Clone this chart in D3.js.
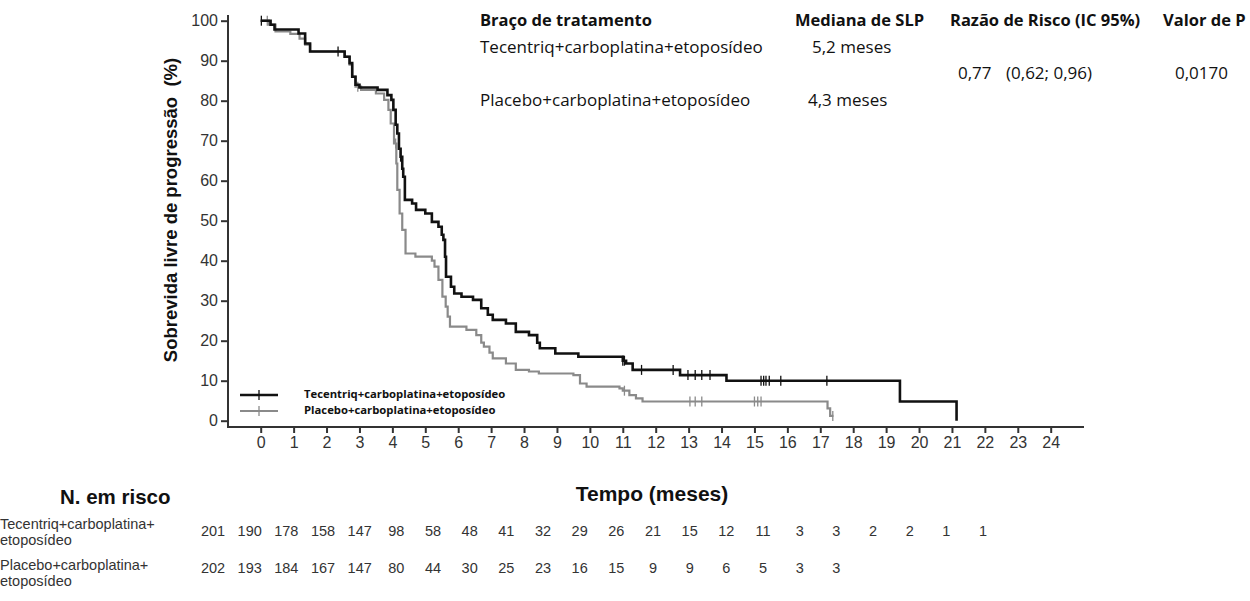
<!DOCTYPE html>
<html>
<head>
<meta charset="utf-8">
<script src="https://cdn.jsdelivr.net/npm/d3@7"></script>
<style>
  body { margin: 0; background: #fff; }
  svg { display: block; }
  .tick text { font-family: "Liberation Sans", Arial, sans-serif; font-size: 16px; fill: #333; }
</style>
</head>
<body>
<svg id="chart" width="1250" height="601"></svg>
<script>
// Kaplan-Meier steps: time (months) -> survival (%)
const tecTimes = [0, 0.3, 0.42, 1.15, 1.35, 1.5, 2.55, 2.7, 2.78, 2.88, 3.0, 3.55, 3.85, 3.97, 4.03, 4.1, 4.15, 4.2, 4.25, 4.3, 4.33, 4.38, 4.6, 4.72, 5.0, 5.2, 5.4, 5.5, 5.55, 5.6, 5.63, 5.78, 5.88, 6.1, 6.45, 6.7, 6.9, 7.05, 7.45, 7.75, 8.15, 8.4, 8.48, 8.95, 9.65, 11.0, 11.1, 11.3, 12.74, 14.15, 19.42, 21.14];
const tecSurv  = [100, 99, 97.8, 96.8, 94.3, 92.3, 91, 89.4, 86, 84, 83.3, 82.7, 81.4, 80.2, 77.7, 74, 71.8, 68, 66, 63, 61, 55.2, 54.3, 52.7, 51.8, 49.7, 48.5, 46.5, 45.2, 41, 36, 33.5, 31.8, 31, 30.2, 28.1, 26.5, 25.2, 24.3, 22.2, 21.4, 19.5, 18.1, 16.8, 16, 15, 14.3, 12.7, 11.4, 10, 4.8, 0];
const plaTimes = [0, 0.25, 0.45, 0.9, 1.18, 1.35, 1.5, 2.55, 2.7, 2.78, 2.88, 3.05, 3.5, 3.75, 3.88, 3.95, 4.05, 4.12, 4.15, 4.22, 4.3, 4.4, 4.7, 5.2, 5.28, 5.4, 5.52, 5.62, 5.68, 5.75, 6.25, 6.55, 6.7, 6.78, 6.95, 7.05, 7.45, 7.75, 8.15, 8.45, 9.5, 9.7, 9.9, 10.9, 11.0, 11.2, 11.4, 11.6, 17.22, 17.3];
const plaSurv  = [100, 99, 97.3, 96.7, 95.5, 94, 92.3, 91, 89, 86, 83.5, 82.7, 81.8, 80.2, 77.7, 74.3, 69.3, 64.3, 57.7, 51.8, 47.7, 41.8, 41, 40, 38.5, 35.2, 31, 28.5, 26, 23.5, 22.7, 21.4, 19.5, 18.5, 17, 15.6, 14.3, 12.7, 12.3, 11.8, 11.4, 9.3, 8.5, 8.1, 7.5, 6.4, 5.6, 4.8, 3.1, 1.2];
const plaEnd = 17.4;

// censored observations (times, months)
const tecCensor = [0.02, 2.35, 4.25, 11.0, 11.05, 11.57, 12.53, 12.98, 13.2, 13.4, 13.65, 15.2, 15.28, 15.35, 15.45, 15.8, 17.2];
const plaCensor = [0.2, 2.95, 4.1, 11.05, 13.04, 13.2, 13.4, 15.0, 15.1, 15.2, 17.38];

const xTicks = d3.range(0, 25);
const yTicks = d3.range(0, 101, 10);

// number at risk
const riskTec = [201, 190, 178, 158, 147, 98, 58, 48, 41, 32, 29, 26, 21, 15, 12, 11, 3, 3, 2, 2, 1, 1];
const riskPla = [202, 193, 184, 167, 147, 80, 44, 30, 25, 23, 16, 15, 9, 9, 6, 5, 3, 3];

const armNames = ['Tecentriq+carboplatina+etoposídeo', 'Placebo+carboplatina+etoposídeo'];
const medians = ['5,2 meses', '4,3 meses'];

const svg = d3.select('#chart');
const sans = '"Liberation Sans", Arial, sans-serif';
const calib = '"Open Sans", "Noto Sans", sans-serif';

const x = d3.scaleLinear().domain([0, 24]).range([260.7, 1050.7]);
const y = d3.scaleLinear().domain([0, 100]).range([420.7, 20.7]);
const axisY0 = 427;
const axisX0 = 228;

// axes
const gy = svg.append('g')
  .attr('transform', `translate(${axisX0},0)`)
  .call(d3.axisLeft(y).tickValues(yTicks).tickSize(7).tickPadding(3).tickFormat(d3.format('d')));
gy.select('.domain').remove();
gy.selectAll('.tick line').attr('stroke', '#333').attr('stroke-width', 2);

const gx = svg.append('g')
  .attr('transform', `translate(0,${axisY0})`)
  .call(d3.axisBottom(x).tickValues(xTicks).tickSize(6).tickPadding(4).tickFormat(d3.format('d')));
gx.select('.domain').remove();
gx.selectAll('.tick line').attr('stroke', '#333').attr('stroke-width', 2);

svg.append('path')
  .attr('d', `M${axisX0},15V${axisY0}H1084`)
  .attr('fill', 'none').attr('stroke', '#333').attr('stroke-width', 2);

// curves
const line = d3.line().x(d => x(d[0])).y(d => y(d[1])).curve(d3.curveStepAfter);
const tecPts = tecTimes.map((t, i) => [t, tecSurv[i]]);
const plaPts = plaTimes.map((t, i) => [t, plaSurv[i]]);
plaPts.push([plaEnd, plaSurv[plaSurv.length - 1]]);

const survAt = (times, surv, t) => surv[Math.max(0, d3.bisectRight(times, t) - 1)];

function drawArm(pts, times, surv, censor, color, width) {
  svg.append('path')
    .attr('d', line(pts))
    .attr('fill', 'none').attr('stroke', color).attr('stroke-width', width);
  svg.append('g').selectAll('line')
    .data(censor)
    .join('line')
    .attr('x1', d => x(d)).attr('x2', d => x(d))
    .attr('y1', d => y(survAt(times, surv, d)) - 5)
    .attr('y2', d => y(survAt(times, surv, d)) + 5)
    .attr('stroke', color).attr('stroke-width', 1.3);
}
drawArm(plaPts, plaTimes, plaSurv, plaCensor, '#8a8a8a', 2.2);
drawArm(tecPts, tecTimes, tecSurv, tecCensor, '#111', 2.6);

// legend
const legend = svg.append('g');
[['#111', 395, 2.6], ['#8a8a8a', 411, 2.2]].forEach((c, i) => {
  legend.append('line').attr('x1', 240).attr('x2', 278).attr('y1', c[1]).attr('y2', c[1])
    .attr('stroke', c[0]).attr('stroke-width', c[2]);
  legend.append('line').attr('x1', 259).attr('x2', 259).attr('y1', c[1] - 5).attr('y2', c[1] + 5)
    .attr('stroke', c[0]).attr('stroke-width', 1.3);
  legend.append('text').attr('x', 304).attr('y', c[1] + 3)
    .attr('font-family', calib).attr('font-size', 11.3).attr('font-weight', 'bold').attr('fill', '#111')
    .text(armNames[i]);
});

// axis titles
svg.append('text')
  .attr('transform', 'translate(177,210) rotate(-90)')
  .attr('text-anchor', 'middle')
  .attr('font-family', sans).attr('font-size', 18.5).attr('font-weight', 'bold').attr('fill', '#111')
  .attr('xml:space', 'preserve')
  .text('Sobrevida livre de progressão  (%)');

svg.append('text')
  .attr('x', 652).attr('y', 501).attr('text-anchor', 'middle')
  .attr('font-family', sans).attr('font-size', 21).attr('font-weight', 'bold').attr('fill', '#111')
  .text('Tempo (meses)');

svg.append('text')
  .attr('x', 60).attr('y', 504)
  .attr('font-family', sans).attr('font-size', 20.5).attr('font-weight', 'bold').attr('fill', '#111')
  .text('N. em risco');

// results table at the top
const tbl = svg.append('g').attr('font-family', calib).attr('fill', '#111');
const head = [['Braço de tratamento', 480], ['Mediana de SLP', 795], ['Razão de Risco (IC 95%)', 950], ['Valor de P', 1163]];
head.forEach(h => tbl.append('text').attr('x', h[1]).attr('y', 26).attr('font-size', 16.5).attr('font-weight', 'bold').text(h[0]));
const body = tbl.append('g').attr('font-size', 17);
body.append('text').attr('x', 480).attr('y', 53).text(armNames[0]);
body.append('text').attr('x', 812).attr('y', 53).text(medians[0]);
body.append('text').attr('x', 480).attr('y', 106).text(armNames[1]);
body.append('text').attr('x', 808).attr('y', 106).text(medians[1]);
body.append('text').attr('x', 958).attr('y', 79).text('0,77');
body.append('text').attr('x', 1006).attr('y', 79).text('(0,62; 0,96)');
body.append('text').attr('x', 1175).attr('y', 79).text('0,0170');

// number at risk table
const xr = d3.scaleLinear().domain([0, 21]).range([213, 983]);
const risk = svg.append('g').attr('font-family', sans).attr('font-size', 14.5).attr('fill', '#333');
[[riskTec, 536, 'Tecentriq+carboplatina+', 529], [riskPla, 573, 'Placebo+carboplatina+', 570]].forEach(r => {
  risk.append('g').selectAll('text')
    .data(r[0])
    .join('text')
    .attr('x', (d, i) => xr(i)).attr('y', r[1]).attr('text-anchor', 'middle')
    .text(d => d);
  risk.append('text').attr('x', 0).attr('y', r[3]).text(r[2]);
  risk.append('text').attr('x', 0).attr('y', r[3] + 16).text('etoposídeo');
});
</script>
</body>
</html>
